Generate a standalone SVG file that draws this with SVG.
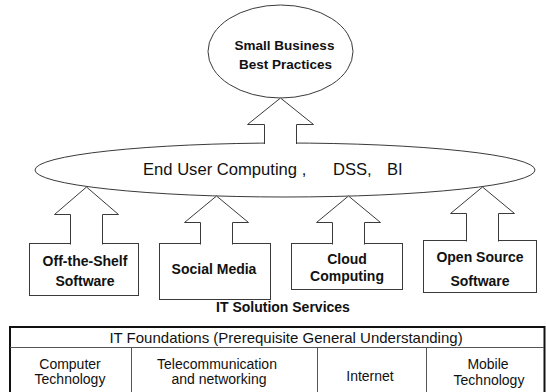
<svg xmlns="http://www.w3.org/2000/svg" width="546" height="392" viewBox="0 0 546 392">
<style>
.shape{fill:#fff;stroke:#3a3a3a;stroke-width:1}
.arrow{fill:#fff;stroke:#3a3a3a;stroke-width:1;stroke-linejoin:miter}
.lbl{font-family:"Liberation Sans",Arial,sans-serif;font-weight:bold;font-size:14px;fill:#111;text-anchor:middle}
.big{font-family:"Liberation Sans",Arial,sans-serif;font-size:16.6px;fill:#111}
.tbl{font-family:"Liberation Sans",Arial,sans-serif;font-size:14px;fill:#111;text-anchor:middle}
.grid{stroke:#555;stroke-width:1;fill:none}
</style>
<rect width="546" height="392" fill="#fff"/>
<g id="node-best-practices">
<ellipse class="shape" cx="280.5" cy="51.5" rx="72.5" ry="46.5"/>
<text class="lbl" style="font-size:13.5px" x="284.5" y="50">Small Business</text>
<text class="lbl" style="font-size:13.5px" x="285.5" y="69">Best Practices</text>
</g>
<g id="node-end-user">
<ellipse class="shape" cx="285" cy="170" rx="250" ry="27"/>
<text class="big" y="175"><tspan x="143">End User Computing ,</tspan><tspan x="333">DSS,</tspan><tspan x="387">BI</tspan></text>
</g>
<g id="node-off-the-shelf">
<rect class="shape" x="29.5" y="243.5" width="109" height="52"/>
<text class="lbl" x="85" y="266">Off-the-Shelf</text>
<text class="lbl" x="85" y="286">Software</text>
</g>
<g id="node-social-media">
<rect class="shape" x="159.5" y="243.5" width="111" height="56"/>
<text class="lbl" x="214" y="274">Social Media</text>
</g>
<g id="node-cloud">
<rect class="shape" x="291.5" y="243.5" width="111" height="46"/>
<text class="lbl" x="347" y="264">Cloud</text>
<text class="lbl" x="347" y="281">Computing</text>
</g>
<g id="node-open-source">
<rect class="shape" x="423.5" y="240.5" width="113" height="52"/>
<text class="lbl" x="480" y="262">Open Source</text>
<text class="lbl" x="480" y="286">Software</text>
</g>
<g id="label-it-solution">
<text class="lbl" x="283" y="312">IT Solution Services</text>
</g>
<g id="connectors">
<path class="arrow" d="M264.5,144 V124.5 H247.5 L280.5,98 L313.5,124.5 H296.5 V144"/>
<path class="arrow" d="M70.5,244.5 V214.5 H54.5 L86.5,187 L118.5,214.5 H102.5 V244.5"/>
<path class="arrow" d="M200.5,244.5 V222.5 H184.5 L216.5,196 L248.5,222.5 H232.5 V244.5"/>
<path class="arrow" d="M332.5,244.5 V222.5 H316.5 L348.5,196 L380.5,222.5 H364.5 V244.5"/>
<path class="arrow" d="M466.5,241.5 V213.5 H450.5 L482.5,187 L514.5,213.5 H498.5 V241.5"/>
</g>
<g id="table-it-foundations">
<rect x="10" y="327" width="534.5" height="80" fill="none" stroke="#111" stroke-width="2"/>
<line class="grid" x1="10" y1="347.5" x2="544" y2="347.5"/>
<line class="grid" x1="131.5" y1="347.5" x2="131.5" y2="392"/>
<line class="grid" x1="317.5" y1="347.5" x2="317.5" y2="392"/>
<line class="grid" x1="426.5" y1="347.5" x2="426.5" y2="392"/>
<text class="tbl" style="font-size:15px" x="286" y="343">IT Foundations (Prerequisite General Understanding)</text>
<text class="tbl" x="70" y="369">Computer</text>
<text class="tbl" x="70" y="384">Technology</text>
<text class="tbl" x="217" y="369">Telecommunication</text>
<text class="tbl" x="219" y="384">and networking</text>
<text class="tbl" x="370" y="381">Internet</text>
<text class="tbl" x="488" y="369">Mobile</text>
<text class="tbl" x="489" y="385">Technology</text>
</g>
</svg>
